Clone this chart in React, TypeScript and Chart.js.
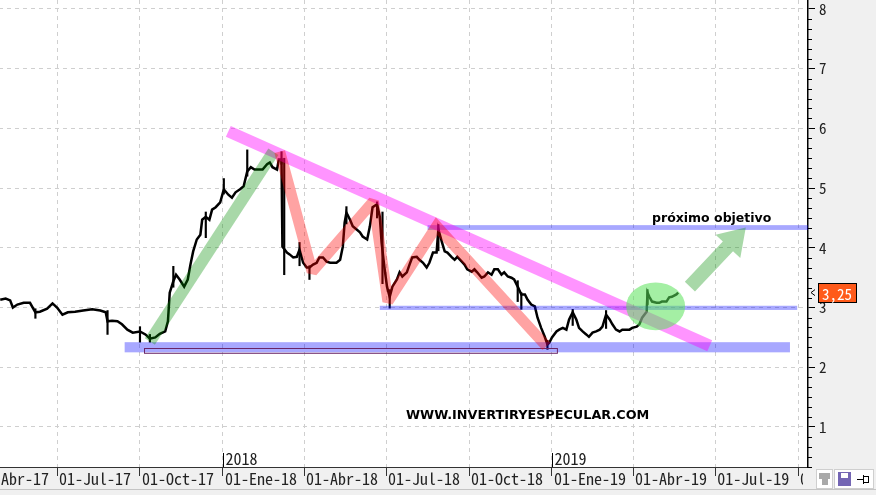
import React, { useEffect, useRef } from 'react';
import { Chart, registerables } from 'chart.js';
Chart.register(...registerables);

const MONO = "'Noto Sans Mono CJK JP', 'DejaVu Sans Mono', monospace";

// x axis: days since 01-Apr-2017
const tickDays = [0, 91, 183, 275, 365, 456, 548, 640, 730, 821, 913];
const tickLabels = ['01-Abr-17', '01-Jul-17', '01-Oct-17', '01-Ene-18', '01-Abr-18', '01-Jul-18', '01-Oct-18', '01-Ene-19', '01-Abr-19', '01-Jul-19', '01-Oct-19'];
const yearDays = [275, 640];
const yearLabels = ['2018', '2019'];
const yTicks = [1, 2, 3, 4, 5, 6, 7, 8];

const priceDays = [28, 34, 39, 42, 47, 54, 61, 67, 72, 80, 86, 91, 97, 103, 111, 120, 130, 139, 145, 147, 152, 158, 163, 169, 175, 183, 189, 194, 200, 205, 211, 214, 216, 220, 223, 227, 232, 236, 239, 242, 246, 250, 252, 256, 260, 263, 267, 272, 276, 281, 285, 289, 294, 298, 302, 306, 310, 315, 319, 324, 327, 330, 335, 337, 340, 341, 346, 349, 353, 357, 360, 364, 368, 371, 375, 379, 382, 386, 390, 394, 397, 401, 405, 408, 410, 412, 416, 419, 423, 427, 430, 435, 438, 441, 446, 449, 451, 454, 457, 460, 463, 468, 471, 474, 479, 482, 485, 490, 493, 497, 501, 504, 508, 512, 514, 518, 521, 524, 529, 532, 535, 540, 543, 546, 551, 554, 557, 562, 565, 569, 573, 576, 580, 584, 587, 591, 595, 598, 602, 606, 610, 613, 617, 621, 624, 628, 632, 635, 637, 640, 645, 648, 652, 656, 659, 663, 667, 670, 674, 678, 681, 685, 689, 693, 696, 700, 704, 707, 711, 715, 718, 722, 726, 729, 734, 737, 740, 745, 746, 748, 751, 756, 759, 762, 767, 770, 773, 778, 780];
const priceValues = [3.13, 3.15, 3.12, 3.00, 3.05, 3.08, 3.08, 2.92, 2.93, 2.98, 3.07, 3.00, 2.88, 2.92, 2.93, 2.95, 2.97, 2.95, 2.92, 2.77, 2.78, 2.77, 2.72, 2.63, 2.58, 2.60, 2.55, 2.48, 2.50, 2.56, 2.60, 2.77, 3.25, 3.44, 3.55, 3.47, 3.35, 3.47, 3.72, 3.94, 4.14, 4.22, 4.47, 4.52, 4.47, 4.64, 4.68, 4.76, 4.98, 4.89, 4.84, 4.93, 4.98, 5.03, 5.28, 5.35, 5.31, 5.31, 5.31, 5.40, 5.43, 5.35, 5.31, 5.48, 5.48, 4.02, 3.92, 3.89, 3.84, 3.85, 3.97, 3.75, 3.67, 3.67, 3.72, 3.75, 3.84, 3.84, 3.77, 3.75, 3.75, 3.75, 3.80, 4.02, 4.42, 4.59, 4.47, 4.36, 4.31, 4.26, 4.19, 4.14, 4.36, 4.68, 4.73, 4.52, 4.09, 3.69, 3.35, 3.18, 3.35, 3.47, 3.59, 3.52, 3.59, 3.72, 3.84, 3.85, 3.80, 3.75, 3.67, 3.75, 3.92, 3.92, 4.31, 4.09, 3.94, 3.92, 3.84, 3.80, 3.85, 3.77, 3.72, 3.64, 3.60, 3.64, 3.59, 3.50, 3.52, 3.59, 3.55, 3.64, 3.64, 3.55, 3.59, 3.52, 3.50, 3.47, 3.35, 3.22, 3.22, 3.13, 3.05, 3.02, 2.83, 2.66, 2.51, 2.38, 2.41, 2.50, 2.60, 2.63, 2.66, 2.63, 2.80, 2.92, 2.80, 2.66, 2.60, 2.55, 2.51, 2.58, 2.60, 2.63, 2.68, 2.88, 2.80, 2.72, 2.63, 2.60, 2.63, 2.63, 2.63, 2.66, 2.68, 2.72, 2.83, 2.93, 3.25, 3.18, 3.10, 3.08, 3.08, 3.10, 3.10, 3.17, 3.18, 3.22, 3.25];

const wickDays = [67, 147, 183, 194, 220, 256, 276, 302, 340, 343, 360, 371, 412, 446, 452, 460, 514, 602, 606, 635, 663, 700, 746];
const wickLows = [2.82, 2.55, 2.42, 2.42, 3.34, 4.17, 4.90, 5.20, 5.40, 3.55, 3.70, 3.47, 4.40, 4.50, 3.40, 2.99, 3.95, 3.10, 2.97, 2.30, 2.70, 2.65, 3.05];
const wickHighs = [2.98, 2.95, 2.68, 2.55, 3.69, 4.60, 5.16, 5.64, 5.61, 5.50, 4.09, 3.70, 4.69, 4.77, 4.60, 3.30, 4.39, 3.45, 3.25, 2.45, 2.97, 2.95, 3.30];

const lastPrice = 3.25;
const lastPriceLabel = '3,25';

// drawn analysis (in data coordinates)
const rallyDays = [194, 331];
const rallyValues = [2.43, 5.61];
const trendDays = [281, 815];
const trendValues = [5.95, 2.36];
const zigDays = [338, 374, 442, 458, 512, 634];
const zigValues = [5.61, 3.60, 4.78, 3.10, 4.36, 2.35];
const bandFrom = [502, 449, 166];
const bandTo = [924, 912, 904];
const bandLow = [4.30, 2.96, 2.25];
const bandHigh = [4.38, 3.03, 2.42];
const boxDays = [188, 646];
const boxValues = [2.25, 2.33];
const circleCenter = [755, 3.02];
const circleRadius = [32.7, 0.40];
const arrowFrom = [793, 3.35];
const arrowTo = [855, 4.34];
const targetText = 'próximo objetivo';
const targetPos = [751, 4.44];
const webText = 'WWW.INVERTIRYESPECULAR.COM';
const webPos = [478, 1.14];

const overlayPlugin = {
  id: 'overlay',
  beforeDraw(chart: any) {
    const { ctx, chartArea: a, width, height } = chart;
    ctx.save();
    ctx.fillStyle = '#f0f0f0';
    ctx.fillRect(0, 0, width, height);
    ctx.fillStyle = '#ffffff';
    ctx.fillRect(a.left, a.top, a.right - a.left, a.bottom - a.top);
    ctx.restore();
  },
  afterDatasetsDraw(chart: any) {
    const { ctx, chartArea: a, scales } = chart;
    const X = (d: number) => scales.x.getPixelForValue(d);
    const Y = (v: number) => scales.y.getPixelForValue(v);
    ctx.save();
    ctx.beginPath();
    ctx.rect(a.left, a.top, a.right - a.left, a.bottom - a.top);
    ctx.clip();

    // blue horizontal bands
    ctx.fillStyle = 'rgba(0,0,255,0.34)';
    for (let i = 0; i < bandFrom.length; i++) {
      ctx.fillRect(X(bandFrom[i]), Y(bandHigh[i]), X(bandTo[i]) - X(bandFrom[i]), Y(bandLow[i]) - Y(bandHigh[i]));
    }
    ctx.strokeStyle = '#6a2466';
    ctx.lineWidth = 1;
    ctx.strokeRect(Math.round(X(boxDays[0])) + 0.5, Math.round(Y(boxValues[1])) + 0.5, X(boxDays[1]) - X(boxDays[0]), Y(boxValues[0]) - Y(boxValues[1]));

    // pink trend line
    ctx.lineCap = 'butt';
    ctx.strokeStyle = 'rgba(255,0,255,0.42)';
    ctx.lineWidth = 12;
    ctx.beginPath();
    ctx.moveTo(X(trendDays[0]), Y(trendValues[0]));
    ctx.lineTo(X(trendDays[1]), Y(trendValues[1]));
    ctx.stroke();

    // green rally line
    ctx.strokeStyle = 'rgba(0,140,0,0.34)';
    ctx.lineWidth = 12;
    ctx.beginPath();
    ctx.moveTo(X(rallyDays[0]), Y(rallyValues[0]));
    ctx.lineTo(X(rallyDays[1]), Y(rallyValues[1]));
    ctx.stroke();

    // red zigzag
    ctx.strokeStyle = 'rgba(255,0,0,0.36)';
    ctx.lineWidth = 11;
    ctx.lineJoin = 'miter';
    ctx.miterLimit = 2;
    ctx.beginPath();
    zigDays.forEach((d, i) => {
      if (i === 0) ctx.moveTo(X(d), Y(zigValues[i]));
      else ctx.lineTo(X(d), Y(zigValues[i]));
    });
    ctx.stroke();

    // green ellipse
    const cx = X(circleCenter[0]);
    const cy = Y(circleCenter[1]);
    const rx = X(circleCenter[0] + circleRadius[0]) - cx;
    const ry = cy - Y(circleCenter[1] + circleRadius[1]);
    ctx.fillStyle = 'rgba(90,225,90,0.55)';
    ctx.beginPath();
    ctx.ellipse(cx, cy, rx, ry, 0, 0, Math.PI * 2);
    ctx.fill();

    // green arrow
    const tx = X(arrowFrom[0]), ty = Y(arrowFrom[1]);
    const hx = X(arrowTo[0]), hy = Y(arrowTo[1]);
    const len = Math.hypot(hx - tx, hy - ty);
    const ux = (hx - tx) / len, uy = (hy - ty) / len;
    const px = -uy, py = ux;
    const sw = 7, hw = 17, hl = 26;
    const bx = hx - ux * hl, by = hy - uy * hl;
    ctx.fillStyle = 'rgba(0,140,0,0.34)';
    ctx.beginPath();
    ctx.moveTo(tx + px * sw, ty + py * sw);
    ctx.lineTo(bx + px * sw, by + py * sw);
    ctx.lineTo(bx + px * hw, by + py * hw);
    ctx.lineTo(hx, hy);
    ctx.lineTo(bx - px * hw, by - py * hw);
    ctx.lineTo(bx - px * sw, by - py * sw);
    ctx.lineTo(tx - px * sw, ty - py * sw);
    ctx.closePath();
    ctx.fill();

    // texts
    ctx.fillStyle = '#000';
    ctx.textBaseline = 'alphabetic';
    ctx.textAlign = 'left';
    ctx.font = "bold 12.5px 'DejaVu Sans'";
    ctx.fillText(targetText, X(targetPos[0]), Y(targetPos[1]));
    ctx.font = "bold 12.8px 'DejaVu Sans'";
    ctx.fillText(webText, X(webPos[0]), Y(webPos[1]));
    ctx.restore();
  },
  afterDraw(chart: any) {
    const { ctx, chartArea: a, scales, width } = chart;
    const X = (d: number) => scales.x.getPixelForValue(d);
    const Y = (v: number) => scales.y.getPixelForValue(v);
    ctx.save();
    // minor ticks on price axis
    ctx.strokeStyle = '#000';
    ctx.lineWidth = 1;
    const yMin = scales.y.min, yMax = scales.y.max;
    for (let k = Math.ceil(yMin * 6); k <= Math.floor(yMax * 6); k++) {
      if (k % 6 === 0) continue;
      const y = Math.round(Y(k / 6)) + 0.5;
      ctx.beginPath();
      ctx.moveTo(a.right, y);
      ctx.lineTo(a.right + 4, y);
      ctx.stroke();
    }
    // year marks
    ctx.font = `16px ${MONO}`;
    ctx.fillStyle = '#222';
    ctx.textBaseline = 'alphabetic';
    yearDays.forEach((d, i) => {
      const x = Math.round(X(d)) + 0.5;
      ctx.beginPath();
      ctx.moveTo(x, a.bottom - 14);
      ctx.lineTo(x, a.bottom);
      ctx.stroke();
      ctx.fillText(yearLabels[i], x + 2, a.bottom - 2);
    });
    // last price tag
    const py = Y(lastPrice);
    ctx.beginPath();
    ctx.moveTo(a.right + 7, py - 3);
    ctx.lineTo(a.right + 3, py);
    ctx.lineTo(a.right + 7, py + 3);
    ctx.stroke();
    ctx.fillStyle = '#ff5a1a';
    ctx.fillRect(a.right + 10.5, Math.round(py) - 9.5, 38, 19);
    ctx.strokeRect(a.right + 10.5, Math.round(py) - 9.5, 38, 19);
    ctx.fillStyle = '#fff';
    ctx.font = `15px ${MONO}`;
    ctx.textBaseline = 'middle';
    ctx.fillText(lastPriceLabel, a.right + 14, Math.round(py) + 1);

    // bottom-right corner and toolbar
    ctx.fillStyle = '#f0f0f0';
    ctx.fillRect(a.right - 5, a.bottom + 1, width - a.right + 5, 30);
    ctx.strokeStyle = '#c4c4c4';
    ctx.beginPath();
    ctx.moveTo(0, 489.5);
    ctx.lineTo(width, 489.5);
    ctx.stroke();
    ctx.fillStyle = '#ffffff';
    ctx.fillRect(a.right + 26.5, 469.5, 39, 19);
    ctx.strokeStyle = '#cfcfcf';
    ctx.strokeRect(a.right + 26.5, 469.5, 39, 19);
    ctx.fillStyle = '#ffffff';
    ctx.fillRect(a.right + 8.5, 469.5, 16, 19);
    ctx.strokeRect(a.right + 8.5, 469.5, 16, 19);
    ctx.fillStyle = '#a9a9a9';
    ctx.fillRect(a.right + 11, 473, 11, 6);
    ctx.fillRect(a.right + 14, 478, 6, 7);
    ctx.fillStyle = '#7466b4';
    ctx.fillRect(a.right + 30, 472, 13, 14);
    ctx.fillStyle = '#ffffff';
    ctx.fillRect(a.right + 33, 473, 7, 5);
    ctx.strokeStyle = '#000';
    ctx.beginPath();
    ctx.moveTo(a.right + 49, 479.5);
    ctx.lineTo(a.right + 55, 479.5);
    ctx.moveTo(a.right + 55.5, 475);
    ctx.lineTo(a.right + 55.5, 484);
    ctx.stroke();
    ctx.strokeRect(a.right + 55.5, 476.5, 5, 6);
    ctx.restore();
  },
};

export default function App() {
  const canvasRef = useRef<HTMLCanvasElement | null>(null);
  useEffect(() => {
    const canvas = canvasRef.current;
    if (!canvas) return;
    const chart = new Chart(canvas, {
      type: 'line',
      data: {
        datasets: [
          {
            type: 'line',
            data: priceDays.map((d, i) => ({ x: d, y: priceValues[i] })),
            borderColor: '#000',
            borderWidth: 2.5,
            pointRadius: 0,
            tension: 0,
            order: 1,
          } as any,
          {
            type: 'bar',
            data: wickDays.map((d, i) => ({ x: d, y: [wickLows[i], wickHighs[i]] })),
            backgroundColor: '#000',
            barThickness: 1.5,
            order: 2,
          } as any,
        ],
      },
      options: {
        responsive: false,
        animation: false,
        layout: { padding: 0 },
        plugins: { legend: { display: false }, tooltip: { enabled: false } },
        scales: {
          x: {
            type: 'linear',
            min: 0,
            max: 924,
            offset: false,
            position: 'bottom',
            afterBuildTicks: (s: any) => {
              s.ticks = tickDays.map((v) => ({ value: v }));
            },
            afterFit: (s: any) => {
              s.height = 28;
              s.paddingLeft = 0;
              s.paddingRight = 0;
            },
            ticks: {
              autoSkip: false,
              maxRotation: 0,
              minRotation: 0,
              align: 'start',
              labelOffset: 2,
              padding: -7,
              color: '#222',
              font: { family: MONO, size: 16 },
              callback: (_v: any, i: number) => tickLabels[i],
            },
            grid: { offset: false, color: '#cfcfcf', lineWidth: 1, tickLength: 9, tickColor: '#333', tickWidth: 1, tickBorderDash: [] },
            border: { display: true, color: '#333', width: 1, dash: [4, 4] },
          },
          y: {
            type: 'linear',
            position: 'right',
            min: 0.33,
            max: 8.15,
            afterBuildTicks: (s: any) => {
              s.ticks = yTicks.map((v) => ({ value: v }));
            },
            afterFit: (s: any) => {
              s.width = 68;
              s.paddingTop = 0;
              s.paddingBottom = 0;
            },
            ticks: {
              color: '#222',
              padding: 4,
              font: { family: MONO, size: 15 },
              callback: (v: any) => String(v),
            },
            grid: { offset: false, color: '#cfcfcf', lineWidth: 1, tickLength: 7, tickColor: '#000', tickBorderDash: [] },
            border: { display: true, color: '#000', width: 1.5, dash: [4, 4] },
          },
        },
      } as any,
      plugins: [overlayPlugin],
    });
    return () => chart.destroy();
  }, []);

  return (
    <div style={{ position: 'fixed', left: 0, top: 0, width: 876, height: 495, overflow: 'hidden', background: '#f0f0f0' }}>
      <canvas ref={canvasRef} width={901} height={495} style={{ position: 'absolute', left: -25, top: 0, width: 901, height: 495 }} />
    </div>
  );
}
